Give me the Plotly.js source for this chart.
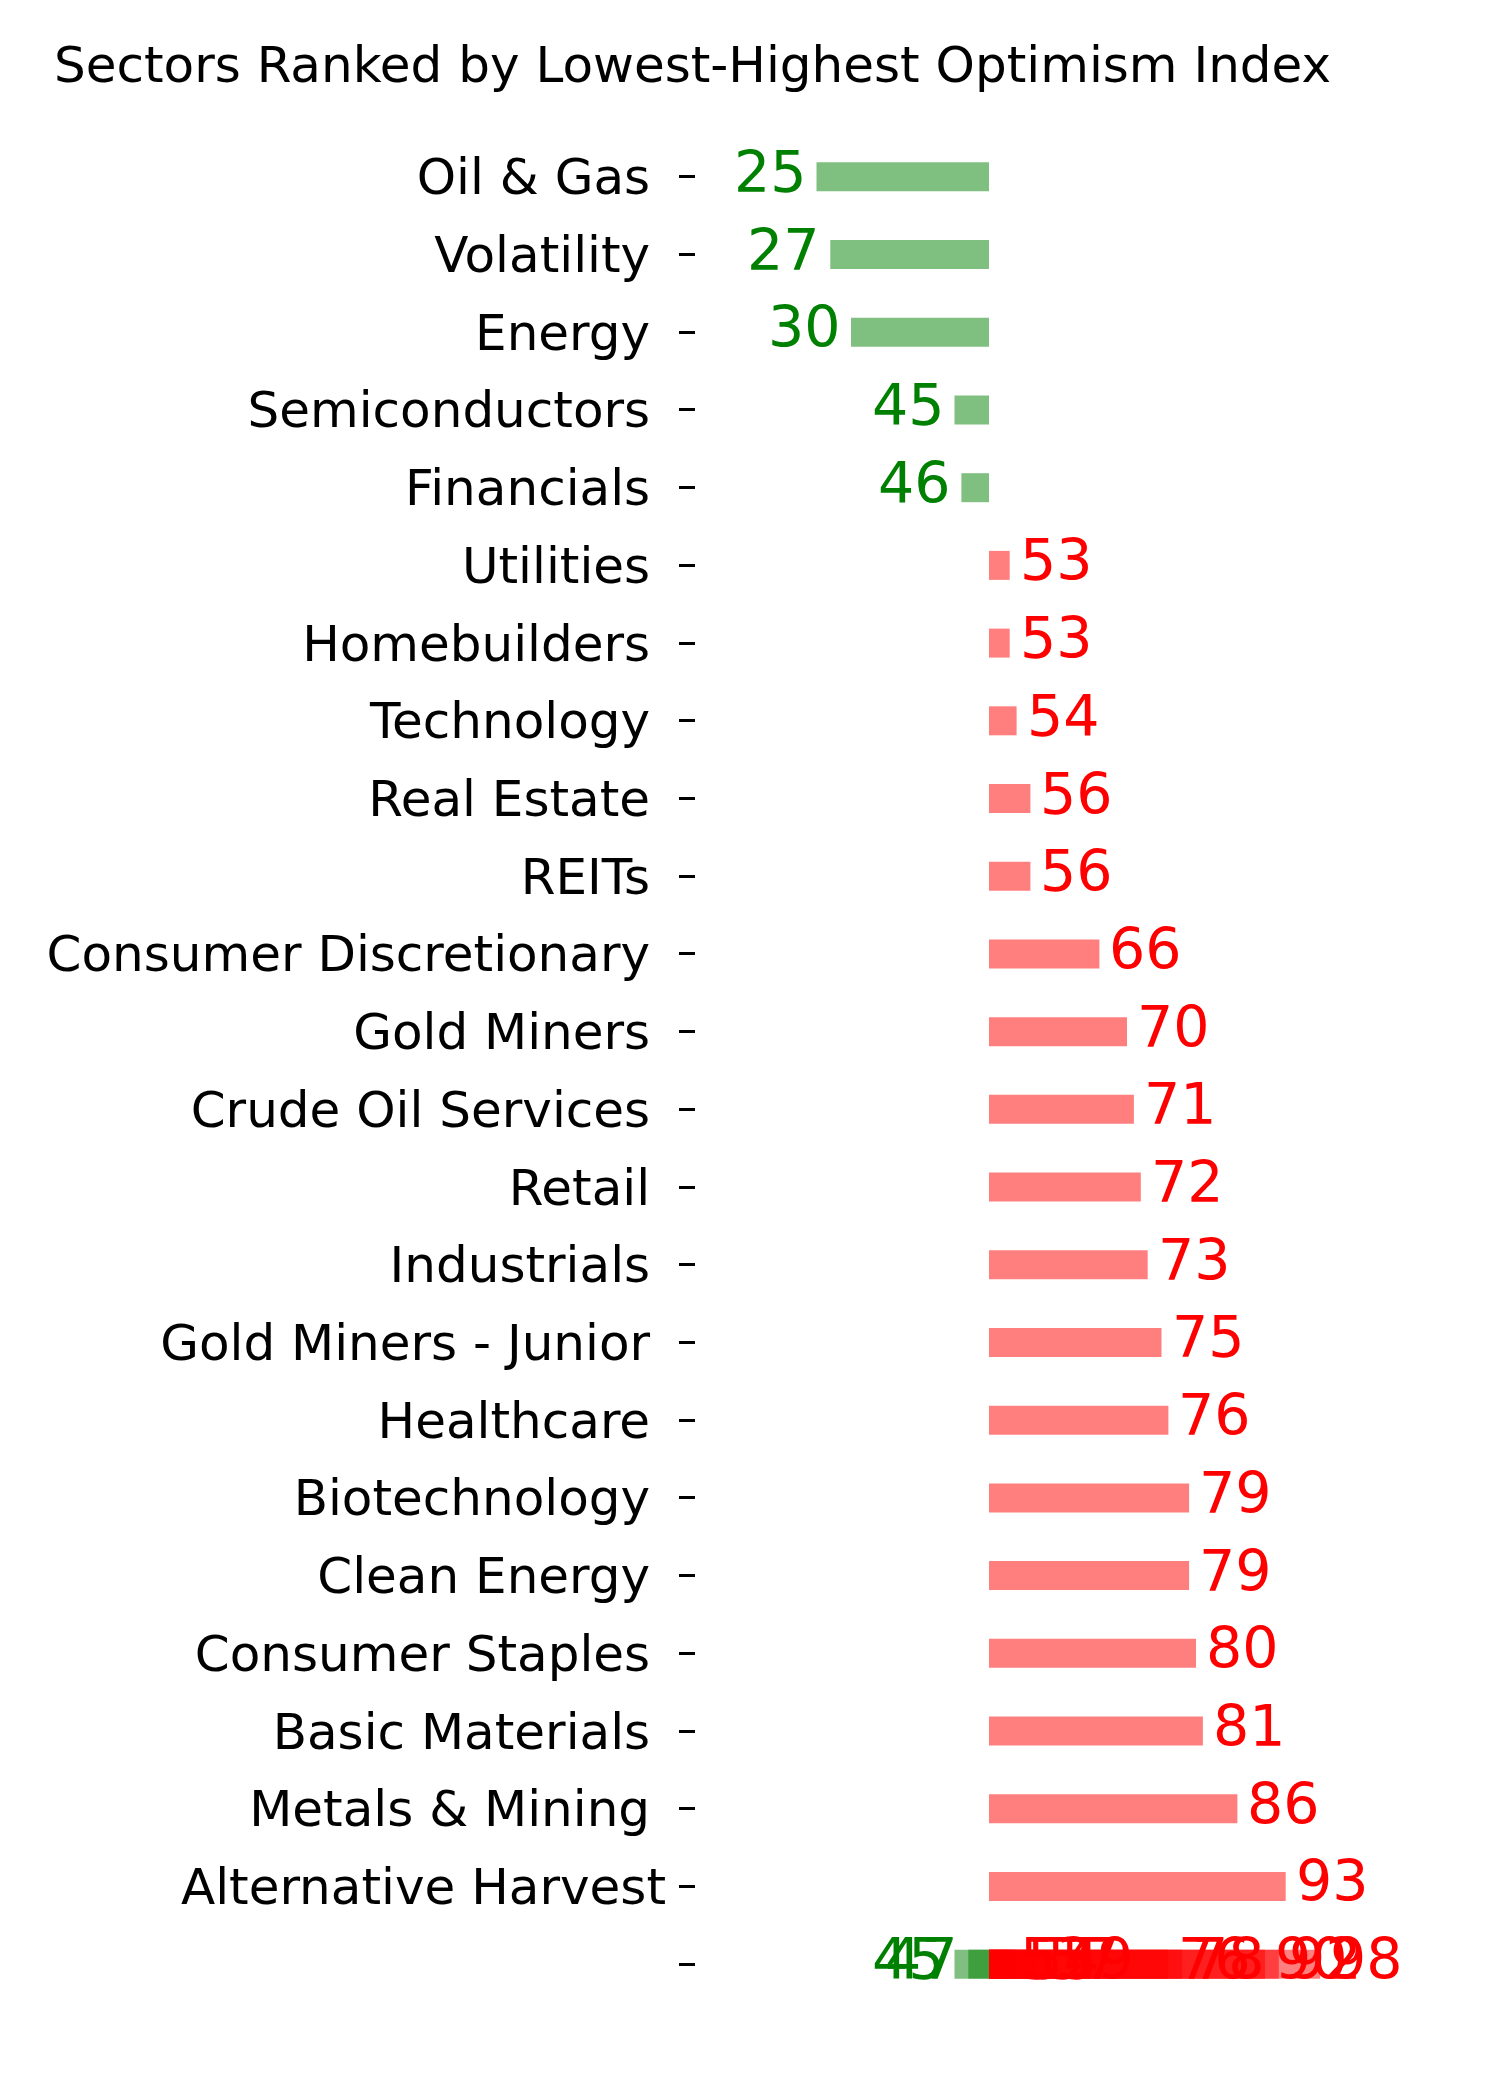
<!DOCTYPE html>
<html>
<head>
<meta charset="utf-8">
<script src="https://cdn.plot.ly/plotly-3.0.1.min.js"></script>
<style>
  html, body { margin: 0; padding: 0; background: #ffffff; }
  #chart { width: 1500px; height: 2100px; }
</style>
</head>
<body>
<div id="chart"></div>
<script>
// Sector names as stored in the source table (trailing space kept where present)
const sectors = [
  "Oil & Gas\u00a0", "Volatility\u00a0", "Energy\u00a0", "Semiconductors\u00a0", "Financials\u00a0",
  "Utilities\u00a0", "Homebuilders\u00a0", "Technology\u00a0", "Real Estate\u00a0", "REITs\u00a0",
  "Consumer Discretionary\u00a0", "Gold Miners\u00a0", "Crude Oil Services\u00a0", "Retail\u00a0",
  "Industrials\u00a0", "Gold Miners - Junior\u00a0", "Healthcare\u00a0", "Biotechnology\u00a0",
  "Clean Energy\u00a0", "Consumer Staples\u00a0", "Basic Materials\u00a0", "Metals & Mining\u00a0",
  "Alternative Harvest"
];
const optimism = [25, 27, 30, 45, 46, 53, 53, 54, 56, 56, 66, 70, 71, 72, 73, 75, 76, 79, 79, 80, 81, 86, 93];

// Rows whose sector name is missing all share one blank category
const unnamedLabel = "\u00a0";
const unnamedOptimism = [45, 47, 53, 54, 57, 59, 76, 78, 90, 92, 98];

// Neutral mid-point of the index: bars grow left (low) or right (high) from here
const neutral = 50;

const allY = sectors.concat(unnamedOptimism.map(() => unnamedLabel));
const allV = optimism.concat(unnamedOptimism);

const lowY = [], lowV = [], highY = [], highV = [];
allV.forEach((v, i) => {
  if (v < neutral) { lowY.push(allY[i]); lowV.push(v); }
  else { highY.push(allY[i]); highV.push(v); }
});

const barWidth = 0.373;
const font = "DejaVu Sans, Liberation Sans, sans-serif";

const traces = [
  {
    type: "bar", orientation: "h",
    y: lowY, x: lowV.map(v => v - neutral), base: neutral,
    width: barWidth,
    marker: { color: "rgba(0,128,0,0.5)", line: { width: 0 } },
    hoverinfo: "skip", showlegend: false
  },
  {
    type: "bar", orientation: "h",
    y: highY, x: highV.map(v => v - neutral), base: neutral,
    width: barWidth,
    marker: { color: "rgba(255,0,0,0.5)", line: { width: 0 } },
    hoverinfo: "skip", showlegend: false
  }
];

// Value labels sit just beyond the end of each bar
const annotations = allV.map((v, i) => ({
  x: v, y: allY[i], xref: "x", yref: "y",
  text: String(v), showarrow: false,
  xanchor: v < neutral ? "right" : "left",
  yanchor: "middle",
  xshift: v < neutral ? -8 : 8,
  yshift: 5,
  font: { family: font, size: 57, color: v < neutral ? "#008000" : "#ff0000" }
}));

const pxPerUnit = 6.9;
const plotLeft = 696, zeroPx = 989, plotRight = 1440;
const xMin = neutral - (zeroPx - plotLeft) / pxPerUnit;
const xMax = neutral + (plotRight - zeroPx) / pxPerUnit;

const categoryOrder = sectors.concat([unnamedLabel]);

const layout = {
  width: 1500, height: 2100,
  paper_bgcolor: "#ffffff", plot_bgcolor: "#ffffff",
  margin: { l: plotLeft, r: 1500 - plotRight, t: 138, b: 97 },
  barmode: "overlay",
  title: {
    text: "Sectors Ranked by Lowest-Highest Optimism Index",
    font: { family: font, size: 50, color: "#000000" },
    xref: "container", yref: "container",
    x: 54 / 1500, xanchor: "left",
    y: 1 - 47 / 2100, yanchor: "top"
  },
  xaxis: {
    range: [xMin, xMax],
    showgrid: false, zeroline: false, showline: false,
    showticklabels: false, ticks: ""
  },
  yaxis: {
    type: "category",
    categoryorder: "array", categoryarray: categoryOrder,
    range: [categoryOrder.length - 0.5, -0.5],
    showgrid: false, zeroline: false, showline: false,
    ticks: "outside", ticklen: 16, tickwidth: 3, tickcolor: "#000000",
    ticklabelstandoff: 3,
    tickfont: { family: font, size: 50, color: "#000000" }
  },
  annotations: annotations,
  font: { family: font }
};

Plotly.newPlot("chart", traces, layout, { staticPlot: true, displayModeBar: false });
</script>
</body>
</html>
